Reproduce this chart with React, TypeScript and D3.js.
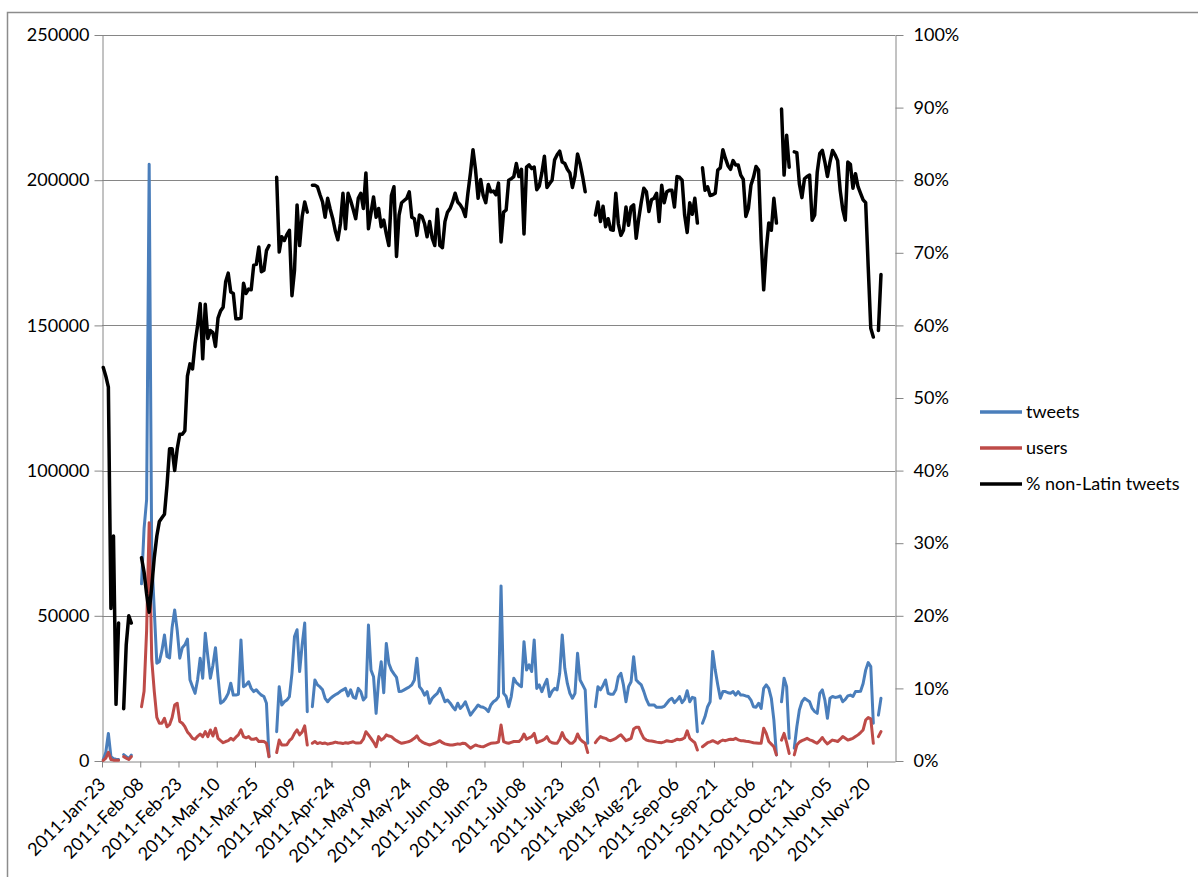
import * as d3 from "d3";
import { useEffect, useRef } from "react";

// category labels shown under every 15th day
const tickLabels = [
  "2011-Jan-23", "2011-Feb-08", "2011-Feb-23", "2011-Mar-10", "2011-Mar-25", "2011-Apr-09",
  "2011-Apr-24", "2011-May-09", "2011-May-24", "2011-Jun-08", "2011-Jun-23", "2011-Jul-08",
  "2011-Jul-23", "2011-Aug-07", "2011-Aug-22", "2011-Sep-06", "2011-Sep-21", "2011-Oct-06",
  "2011-Oct-21", "2011-Nov-05", "2011-Nov-20",
];

const tweets: (number | null)[] = [
  500, 3000, 9500, 1500, 800, 600, 500, null, 2200, 1500,
  800, 2000, null, null, null, 61000, 80000, 90000, 205500, 70000,
  52000, 33700, 34200, 38000, 43400, 36000, 35500, 46000, 52000, 45000,
  35400, 39000, 40000, 42000, 28000, 25600, 23300, 28000, 35400, 28500,
  44000, 36000, 28500, 33000, 39000, 29000, 19900, 20500, 21600, 23300,
  26800, 22700, 22700, 23000, 41700, 25600, 26200, 27300, 25000, 23900,
  24500, 23500, 22700, 22200, 19900, 1500, null, null, 10100, 25600,
  19300, 20400, 21000, 22200, 30200, 42900, 45200, 30800, 40000, 47500,
  17000, null, 18700, 27900, 26200, 25500, 24500, 21600, 20400, 21500,
  22200, 22800, 23300, 24000, 24500, 25000, 22400, 24500, 22000, 21600,
  25000, 23900, 21000, 22000, 46800, 31300, 29000, 16400, 27900, 34200,
  23500, 40500, 33600, 31300, 30000, 28800, 23900, 24000, 24500, 25000,
  25500, 26200, 27900, 35400, 25600, 24500, 22700, 23900, 19900, 21600,
  22500, 23300, 25000, 22700, 20400, 21000, 20000, 18700, 17600, 19900,
  18100, 19000, 20400, 18100, 15800, 17000, 18100, 19300, 18700, 18500,
  18000, 17000, 19300, 20400, 21000, 22200, 60300, 23300, 22200, 18700,
  22200, 28500, 27000, 26200, 25600, 41100, 31300, 33100, 30800, 41700,
  25000, 26200, 23900, 26200, 28100, 22200, 24000, 25000, 24500, 30200,
  43400, 31900, 26700, 23300, 21600, 23300, 37100, 27900, 26200, 24500,
  6100, null, null, 18700, 25600, 24500, 26000, 27900, 23300, 23000,
  23000, 24500, 29000, 30200, 26200, 20400, 25600, 27300, 35900, 27900,
  27000, 26200, 23900, 21200, 19300, 19300, 19300, 18500, 18500, 18500,
  18800, 19900, 21000, 21600, 20100, 21000, 22200, 20100, 21200, 24200,
  20400, 21900, 21600, 10100, null, 13000, 15300, 18700, 20400, 37700,
  31300, 26200, 21600, 23900, 23900, 23500, 23300, 23900, 22700, 23900,
  22700, 22700, 22400, 22200, 21000, 18700, 18500, 19900, 18100, 25000,
  26200, 25000, 21600, 14100, 2100, null, 20400, 28500, 25600, 7800,
  null, 4400, 11800, 17600, 20400, 21600, 21000, 20400, 18100, 17000,
  16400, 23300, 24500, 21000, 14700, 21600, 22200, 21900, 22000, 22400,
  20400, 21200, 22400, 22700, 22200, 23900, 23900, 24000, 26700, 31300,
  33900, 32500, 13000, null, 15800, 21600,
];

const users: (number | null)[] = [
  200, 1000, 3000, 500, 300, 300, 300, null, 1500, 1000,
  500, 1500, null, null, null, 18700, 24000, 45000, 82000, 35000,
  24000, 15000, 13000, 13000, 14700, 11800, 12500, 15000, 19300, 19900,
  13600, 13000, 11800, 10000, 9000, 7800, 7500, 8500, 9300, 8400,
  10100, 8400, 10700, 8600, 11300, 7800, 7000, 6300, 6700, 7000,
  7800, 7200, 8200, 9000, 10700, 8400, 8000, 8400, 7500, 7500,
  7800, 6700, 6800, 6700, 6100, 1500, null, null, 2900, 7200,
  5500, 5500, 5600, 7000, 7800, 9500, 10700, 9000, 10000, 12100,
  5500, null, 6100, 6700, 6000, 6300, 6000, 6200, 5800, 6000,
  6200, 6500, 6300, 6200, 6000, 6300, 6100, 6400, 6600, 6200,
  6200, 6300, 7500, 10100, 9000, 7800, 6500, 4900, 8400, 7200,
  7800, 9000, 8600, 8400, 7600, 7000, 6500, 6100, 6300, 6500,
  6700, 7200, 7800, 8700, 7200, 6600, 6100, 5800, 5500, 5800,
  6100, 6500, 7000, 6300, 5900, 5700, 5500, 5500, 5700, 5900,
  5800, 6100, 6000, 5200, 4400, 5000, 5500, 5200, 5000, 4900,
  5300, 5700, 6100, 6200, 6300, 6500, 12400, 6700, 6300, 6100,
  6400, 6700, 6700, 6700, 7500, 9300, 7500, 8000, 8400, 9500,
  6300, 6700, 7000, 7500, 8400, 6800, 6300, 6100, 6100, 7500,
  9800, 7800, 7000, 6100, 6100, 7000, 9300, 7500, 6700, 6100,
  2900, null, null, 6300, 7500, 8400, 8000, 7800, 7200, 7000,
  7400, 7800, 8500, 9000, 8000, 7000, 7400, 7800, 11000, 11600,
  11600, 9500, 7800, 7200, 7000, 6900, 6700, 6500, 6400, 6300,
  6600, 7000, 6800, 6700, 7000, 7500, 7300, 7500, 8000, 10400,
  7800, 7000, 6300, 3800, null, 4900, 5600, 6300, 6600, 7000,
  6600, 6100, 6800, 7200, 7000, 7300, 7500, 7400, 7800, 7300,
  7000, 7000, 6800, 6700, 6500, 6300, 6200, 6100, 6100, 11300,
  9500, 6700, 5800, 4900, 2100, null, 7200, 9500, 6300, 2600,
  null, 2100, 5500, 6500, 7000, 7400, 7800, 7300, 7000, 6500,
  6100, 7000, 8100, 6800, 5900, 6600, 7200, 7000, 6700, 7500,
  8400, 7800, 7200, 7500, 7800, 8400, 9000, 9800, 10700, 14100,
  15000, 14500, 6100, null, 8400, 10100,
];

// percent, secondary axis
const nonLatinPct: (number | null)[] = [
  54.2, 53, 51.5, 21, 31, 7.8, 19, null, 7.2, 16,
  20, 19, null, null, null, 28, 26, 23, 20.5, 24,
  28, 31, 33, 33.5, 34, 38, 43, 43, 40, 43,
  45, 45, 45.5, 53, 54.7, 54, 57.5, 60, 63, 55.4,
  62.9, 58.2, 59.3, 59, 57.1, 61, 62, 62.5, 66, 67.2,
  64.6, 64.4, 60.9, 60.9, 61, 65.8, 64.4, 65, 64.9, 68.3,
  68.4, 70.8, 67.4, 67.6, 70.3, 71, null, null, 80.4, 70.1,
  72.2, 71.7, 72.5, 73.1, 64.1, 67.6, 76.6, 71, 75, 77,
  75.6, null, 79.3, 79.3, 79.1, 78, 77, 74.9, 77.5, 76,
  74.7, 73, 71.8, 74, 78.2, 73.3, 78.2, 77.2, 76, 74.7,
  77.5, 78.2, 76.1, 81, 73.3, 75.5, 77.7, 74.9, 76.1, 73.6,
  74.5, 72.6, 71, 77.9, 79.1, 69.5, 75.2, 76.9, 77.2, 77.5,
  78.4, 74.9, 74.7, 72.4, 75.2, 75, 74, 72.2, 74.3, 72,
  71, 76, 71, 70.7, 74.3, 75.6, 76.1, 77, 78.2, 77,
  76.6, 76, 75, 78.2, 81, 84.2, 81.4, 77.5, 80.1, 77.9,
  76.9, 79.4, 78.4, 78.5, 78, 79.6, 71.5, 75.6, 75.9, 80,
  80.2, 80.5, 82.3, 80.5, 81.5, 72.6, 81.8, 82.1, 81.6, 81.8,
  78.7, 79.2, 81, 83.3, 79, 79.5, 80, 82.8, 83.5, 84,
  82.5, 82.3, 81.5, 81, 79, 80.6, 83.6, 82.3, 80.5, 78.4,
  null, null, null, 75.2, 77, 74.3, 76.4, 73.6, 74.7, 73.2,
  73.1, 78.2, 74, 72.4, 73.1, 76.3, 73.8, 76.3, 76.6, 72,
  74.7, 77, 78.9, 78.4, 75.7, 77.3, 77.5, 78.2, 74.3, 79.3,
  76.9, 78.4, 78.6, 78.6, 76.3, 80.5, 80.4, 80, 75.2, 72.8,
  76.9, 75.3, 77.5, 74.1, null, 81.7, 78.6, 79.1, 77.9, 78,
  78.2, 81.4, 81.7, 84.2, 83, 82, 81.5, 82.7, 82.1, 82.1,
  80.7, 80.1, 75, 76.1, 79.3, 80.4, 81.9, 81.4, 71.8, 64.9,
  70.4, 74.1, 73.1, 77.5, 74.1, null, 89.8, 80.7, 86.2, 81.8,
  null, 83.9, 83.8, 79.5, 77.6, 80.2, 80.5, 80.7, 74.5, 75.2,
  81.1, 83.7, 84.1, 82.5, 80.5, 82.5, 84.1, 83.5, 82.7, 78.6,
  76, 74.5, 82.5, 82.2, 78.9, 80.9, 79.1, 78.2, 77.3, 76.9,
  68, 59.6, 58.4, null, 59.3, 67,
];

const leftTicks = [0, 50000, 100000, 150000, 200000, 250000];
const rightTicks = [0, 10, 20, 30, 40, 50, 60, 70, 80, 90, 100];
const categoryCount = 311;
const labelStep = 15;

const legendItems = [
  { name: "tweets", color: "#4a7ebb" },
  { name: "users", color: "#be4b48" },
  { name: "% non-Latin tweets", color: "#000000" },
];

export default function App() {
  const svgRef = useRef<SVGSVGElement>(null);

  useEffect(() => {
    const svg = d3.select(svgRef.current);
    svg.selectAll("*").remove();

    const width = 1198;
    const height = 877;
    const m = { left: 102, right: 895, top: 35, bottom: 761 };
    const font = "Lato, 'Open Sans', sans-serif";
    const fs = 18;
    const axisColor = "#868686";

    svg.attr("width", width).attr("height", height).attr("viewBox", `0 0 ${width} ${height}`);
    svg.append("rect").attr("width", width).attr("height", height).attr("fill", "#fff");
    svg
      .append("rect")
      .attr("x", 7.5)
      .attr("y", 12.5)
      .attr("width", 1200)
      .attr("height", 900)
      .attr("fill", "none")
      .attr("stroke", "#8c8c8c")
      .attr("stroke-width", 1.5);

    const x = d3.scaleBand<number>().domain(d3.range(categoryCount)).range([m.left, m.right]);
    const cx = (i: number) => (x(i) ?? 0) + x.bandwidth() / 2;
    const xEdge = d3.scaleLinear().domain([0, categoryCount]).range([m.left, m.right]);
    const yL = d3.scaleLinear().domain([0, 250000]).range([m.bottom, m.top]);
    const yR = d3.scaleLinear().domain([0, 100]).range([m.bottom, m.top]);

    // horizontal gridlines
    svg
      .append("g")
      .selectAll("line")
      .data(leftTicks.slice(1))
      .join("line")
      .attr("x1", m.left)
      .attr("x2", m.right)
      .attr("y1", (d) => Math.round(yL(d)) + 0.5)
      .attr("y2", (d) => Math.round(yL(d)) + 0.5)
      .attr("stroke", axisColor)
      .attr("stroke-width", 1);

    const styleAxis = (g: d3.Selection<SVGGElement, unknown, null, undefined>) => {
      g.attr("font-family", font).attr("font-size", fs);
      g.select(".domain").attr("stroke", axisColor);
      g.selectAll(".tick line").attr("stroke", axisColor);
      g.selectAll(".tick text").attr("fill", "#000");
    };

    const leftAxis = svg
      .append("g")
      .attr("transform", `translate(${m.left + 0.5},0)`)
      .call(
        d3.axisLeft(yL).tickValues(leftTicks).tickSize(8).tickSizeOuter(0).tickPadding(5).tickFormat(d3.format("d"))
      );
    styleAxis(leftAxis);

    const rightAxis = svg
      .append("g")
      .attr("transform", `translate(${m.right + 0.5},0)`)
      .call(
        d3
          .axisRight(yR)
          .tickValues(rightTicks)
          .tickSize(8)
          .tickSizeOuter(0)
          .tickPadding(10)
          .tickFormat((d) => `${d}%`)
      );
    styleAxis(rightAxis);

    const bottomAxis = svg
      .append("g")
      .attr("transform", `translate(0,${m.bottom + 0.5})`)
      .call(
        d3
          .axisBottom(xEdge)
          .tickValues(d3.range(0, categoryCount, labelStep))
          .tickSize(6)
          .tickSizeOuter(0)
          .tickFormat(() => "")
      );
    styleAxis(bottomAxis);

    svg
      .append("g")
      .attr("font-family", font)
      .attr("font-size", fs)
      .selectAll("text")
      .data(tickLabels)
      .join("text")
      .attr("transform", (_, k) => `translate(${cx(k * labelStep) - 1},${m.bottom + 20}) rotate(-45)`)
      .attr("text-anchor", "end")
      .attr("dy", "0.35em")
      .attr("fill", "#000")
      .text((d) => d);

    const lineLeft = d3
      .line<number | null>()
      .defined((d) => d !== null)
      .x((_, i) => cx(i))
      .y((d) => yL(d as number));
    const lineRight = d3
      .line<number | null>()
      .defined((d) => d !== null)
      .x((_, i) => cx(i))
      .y((d) => yR(d as number));

    const plot = svg.append("g").attr("fill", "none").attr("stroke-linejoin", "round").attr("stroke-linecap", "round");
    plot.append("path").attr("d", lineLeft(tweets)).attr("stroke", legendItems[0].color).attr("stroke-width", 3);
    plot.append("path").attr("d", lineLeft(users)).attr("stroke", legendItems[1].color).attr("stroke-width", 3);
    plot.append("path").attr("d", lineRight(nonLatinPct)).attr("stroke", legendItems[2].color).attr("stroke-width", 3.5);

    // legend
    const legend = svg.append("g").attr("font-family", font).attr("font-size", fs);
    const rowY = [412, 448, 484];
    legendItems.forEach((item, k) => {
      legend
        .append("line")
        .attr("x1", 980)
        .attr("x2", 1022)
        .attr("y1", rowY[k])
        .attr("y2", rowY[k])
        .attr("stroke", item.color)
        .attr("stroke-width", 3.5);
      legend
        .append("text")
        .attr("x", 1026)
        .attr("y", rowY[k])
        .attr("dy", "0.35em")
        .attr("fill", "#000")
        .text(item.name);
    });
  }, []);

  return (
    <div style={{ position: "absolute", left: 0, top: 0, width: 1198, height: 877, overflow: "hidden" }}>
      <svg ref={svgRef} />
    </div>
  );
}
